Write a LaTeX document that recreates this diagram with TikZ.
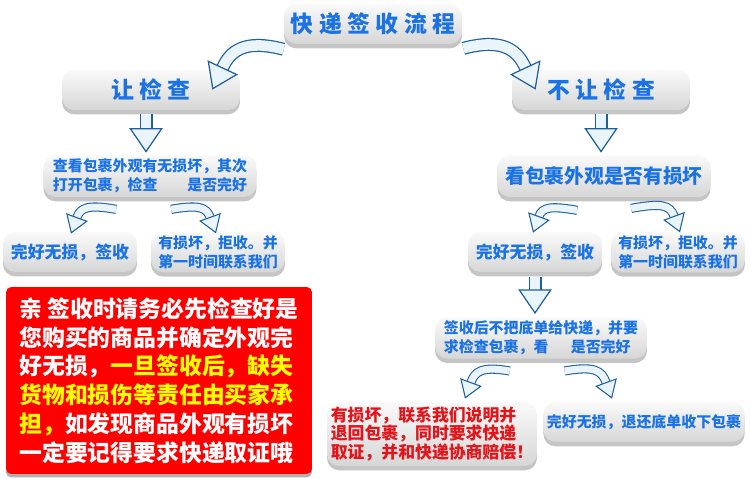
\documentclass[tikz,border=0pt]{standalone}
\usepackage{fontspec}
\setmainfont{Noto Sans CJK SC}
\usetikzlibrary{arrows.meta,shadows,calc}
\definecolor{textblue}{HTML}{1A72E6}
\definecolor{arrowblue}{HTML}{1F5F9E}
\definecolor{arrowfill}{HTML}{EAF4FB}
\definecolor{noticered}{HTML}{FF0000}
\definecolor{noticeyellow}{HTML}{FFFF00}
\definecolor{warnred}{HTML}{E3141A}

\begin{document}
\begin{tikzpicture}[
  x=0.02cm, y=-0.02cm,
  box/.style={rounded corners=7pt, top color=gray!4, bottom color=gray!32, align=left, text=textblue, inner sep=2pt,
    drop shadow={opacity=0.45, shadow xshift=0pt, shadow yshift=-2.5pt}},
  headbox/.style={box, minimum width=3.56cm, minimum height=0.8cm, font=\bfseries\fontsize{13}{15}\selectfont\addfontfeature{LetterSpace=24}},
  widebox/.style={box, minimum width=4.26cm, minimum height=0.84cm},
  smallbox/.style={box, minimum width=2.68cm, minimum height=0.8cm},
  bigarrow/.style={draw=arrowblue, line width=0.7pt, double=arrowfill, double distance=6pt,
    -{Triangle[length=14pt, width=19pt, color=arrowblue, fill=arrowfill, line width=0.7pt]}},
  smallarrow/.style={draw=arrowblue, line width=0.6pt, double=arrowfill, double distance=4pt,
    -{Triangle[length=10pt, width=13pt, color=arrowblue, fill=arrowfill, line width=0.6pt]}},
  every node/.style={font=\bfseries\fontsize{8.5}{10.8}\selectfont}
]
  \useasboundingbox[fill=white] (0,0) rectangle (750,479);

  \node[headbox] (title) at (373,24) {快递签收流程};
  \node[headbox] (letcheck) at (151,90) {让检查};
  \node[headbox] (nocheck) at (601,90) {不让检查};

  \node[widebox] (lookopen) at (150,176) {查看包裹外观有无损坏，其次\\打开包裹，检查\hspace{2em}是否完好};
  \node[widebox, font=\bfseries\fontsize{11.2}{13}\selectfont] (lookonly) at (604,176) {看包裹外观是否有损坏};

  \node[smallbox, font=\bfseries\fontsize{9.6}{12}\selectfont] (okleft) at (70,252) {完好无损，签收};
  \node[smallbox] (badleft) at (218,252) {有损坏，拒收。并\\第一时间联系我们};
  \node[smallbox, font=\bfseries\fontsize{9.6}{12}\selectfont] (okright) at (535,252) {完好无损，签收};
  \node[smallbox] (badright) at (678,252) {有损坏，拒收。并\\第一时间联系我们};

  \node[box, minimum width=4.24cm, minimum height=0.8cm] (receipt) at (541,338) {签收后不把底单给快递，并要\\求检查包裹，看\hspace{1.5em}是否完好};
  \node[box, minimum width=4.2cm, minimum height=1.28cm, text=warnred, font=\bfseries\fontsize{9.6}{10.8}\selectfont] (badreturn) at (432,434) {有损坏，联系我们说明并\\退回包裹，同时要求快递\\取证，并和快递协商赔偿！};
  \node[box, minimum width=3.96cm, minimum height=0.8cm] (okkeep) at (644,422) {完好无损，退还底单收下包裹};

  \node[rounded corners=3pt, fill=noticered, text=white, align=left, minimum width=6.12cm, minimum height=3.74cm,
    drop shadow={opacity=0.6, shadow xshift=0pt, shadow yshift=-2pt}, font=\bfseries\fontsize{13}{16.4}\selectfont] (notice) at (159,380.5)
    {亲 签收时请务必先检查好是\\您购买的商品并确定外观完\\好无损，\textcolor{noticeyellow}{一旦签收后，缺失}\\
     \textcolor{noticeyellow}{货物和损伤等责任由买家承}\\\textcolor{noticeyellow}{担，}如发现商品外观有损坏\\一定要记得要求快递取证哦};

  \draw[bigarrow] ($(title.south west)+(0,5)$) to[out=165, in=65, looseness=1.3] ($(letcheck.north east)+(-28,20)$);
  \draw[bigarrow] ($(title.south east)+(1,4)$) to[out=15, in=115, looseness=1.3] ($(nocheck.north west)+(24,20)$);
  \draw[bigarrow] ($(letcheck.south)+(-5,4)$) -- ($(lookopen.north)+(-4,-2)$);
  \draw[bigarrow] ($(nocheck.south)+(0,4)$) -- ($(lookonly.north)+(-3,-2)$);

  \draw[smallarrow] ($(lookopen.south west)+(73,12)$) to[out=170, in=70, looseness=1.4] ($(okleft.north)+(1,2)$);
  \draw[smallarrow] ($(lookopen.south west)+(128,12)$) to[out=10, in=110, looseness=1.4] ($(badleft.north)+(-2,2)$);
  \draw[smallarrow] ($(lookonly.south west)+(80,13)$) to[out=170, in=70, looseness=1.4] ($(okright.north)+(-2,1)$);
  \draw[smallarrow] ($(lookonly.south west)+(134,11)$) to[out=10, in=110, looseness=1.4] ($(badright.north)+(2,1)$);

  \draw[bigarrow] ($(okright.south)+(0,5)$) -- ($(receipt.north)+(-6,-3)$);
  \draw[smallarrow] ($(receipt.south west)+(75,12)$) to[out=170, in=70, looseness=1.4] ($(badreturn.north)+(33,-3)$);
  \draw[smallarrow] ($(receipt.south west)+(130,12)$) to[out=10, in=110, looseness=1.4] ($(okkeep.north)+(-32,-3)$);
\end{tikzpicture}
\end{document}
